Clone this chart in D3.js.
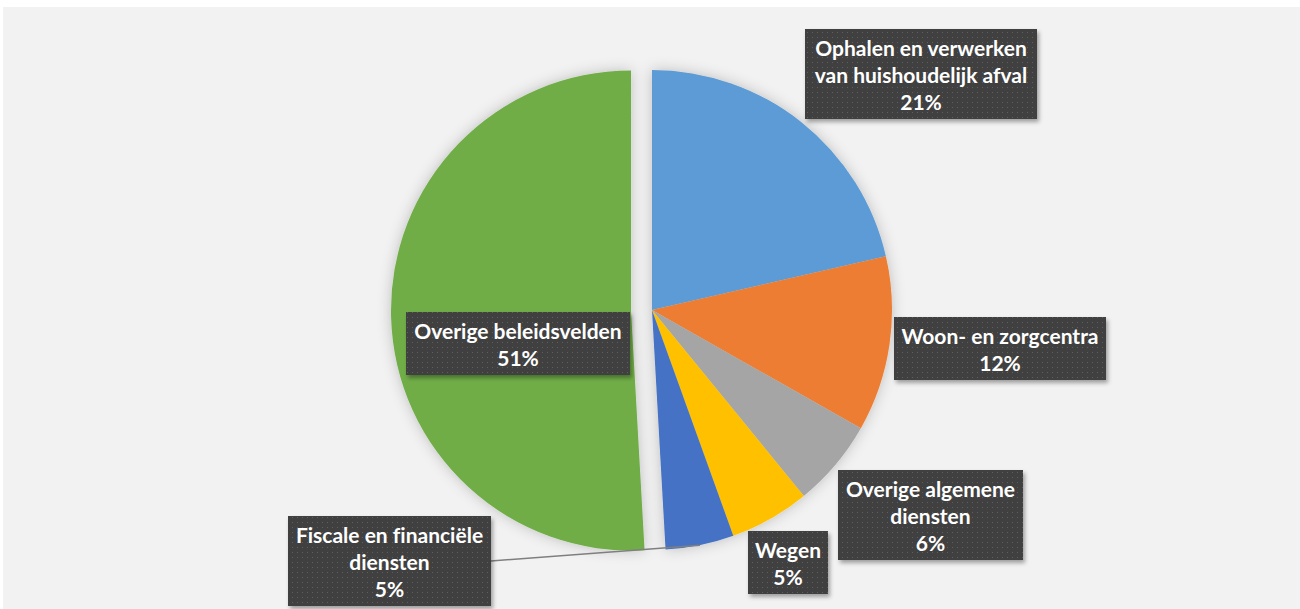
<!DOCTYPE html>
<html>
<head>
<meta charset="utf-8">
<script src="https://cdn.jsdelivr.net/npm/d3@7"></script>
<style>
  body { margin: 0; background: #fff; }
  svg { display: block; }
  .lbl { font-family: Lato, "Open Sans", sans-serif; font-weight: 700; fill: #fff; text-anchor: middle; font-variant-ligatures: none; }
</style>
</head>
<body>
<svg width="1300" height="609"></svg>
<script>
// slice data (share in %)
const categories = [
  'Ophalen en verwerken van huishoudelijk afval',
  'Woon- en zorgcentra',
  'Overige algemene diensten',
  'Wegen',
  'Fiscale en financiële diensten',
  'Overige beleidsvelden'
];
const values = [21.4, 11.8, 5.9, 5.4, 4.6, 50.9];
const colors = ['#5b9bd5', '#ed7d31', '#a5a5a5', '#ffc000', '#4472c4', '#70ad47'];
// label lines as shown in the boxes (last line is the percentage)
const labelLines = [
  ['Ophalen en verwerken', 'van huishoudelijk afval'],
  ['Woon- en zorgcentra'],
  ['Overige algemene', 'diensten'],
  ['Wegen'],
  ['Fiscale en financiële', 'diensten'],
  ['Overige beleidsvelden']
];
// box layout: left, top, width (in pixels)
const labelBoxes = [
  [805, 29, 232],
  [894, 317, 212],
  [838, 470, 185],
  [748, 531, 80],
  [288, 516, 203],
  [406, 312, 224]
];
const explodeIdx = 5;
const explodeDist = 21;

const svg = d3.select('svg');
const cx = 652, cy = 310, radius = 240;
const lineH = 27;

const defs = svg.append('defs');
const pat = defs.append('pattern')
  .attr('id', 'dots').attr('patternUnits', 'userSpaceOnUse')
  .attr('width', 5).attr('height', 5);
pat.append('rect').attr('width', 5).attr('height', 5).attr('fill', '#404040');
pat.append('rect').attr('x', 2).attr('y', 2).attr('width', 1).attr('height', 1).attr('fill', '#5e5e5e');

const pieShadow = defs.append('filter').attr('id', 'pieShadow')
  .attr('x', '-20%').attr('y', '-20%').attr('width', '140%').attr('height', '140%');
pieShadow.append('feDropShadow').attr('dx', 0).attr('dy', 0)
  .attr('stdDeviation', 7).attr('flood-color', '#000').attr('flood-opacity', 0.22);

const boxShadow = defs.append('filter').attr('id', 'boxShadow')
  .attr('x', '-10%').attr('y', '-10%').attr('width', '130%').attr('height', '140%');
boxShadow.append('feDropShadow').attr('dx', 2).attr('dy', 3)
  .attr('stdDeviation', 2).attr('flood-color', '#000').attr('flood-opacity', 0.35);

// chart area
svg.append('rect').attr('x', 3).attr('y', 7).attr('width', 1297).attr('height', 602).attr('fill', '#f2f2f2');

const pie = d3.pie().sort(null).value(d => d)(values);
const arc = d3.arc().innerRadius(0).outerRadius(radius);

function offset(d, i) {
  if (i !== explodeIdx) return [0, 0];
  const a = (d.startAngle + d.endAngle) / 2;
  return [Math.sin(a) * explodeDist, -Math.cos(a) * explodeDist];
}

const g = svg.append('g').attr('transform', `translate(${cx},${cy})`);

g.append('g').attr('filter', 'url(#pieShadow)')
  .selectAll('path')
  .data(pie)
  .join('path')
  .attr('d', arc)
  .attr('transform', (d, i) => `translate(${offset(d, i)})`)
  .attr('fill', (d, i) => colors[i]);

// leader line for the small slice with its label at the bottom left
const leaderIdx = 4;
const ld = pie[leaderIdx];
const la = (ld.startAngle + ld.endAngle) / 2;
const lb = labelBoxes[leaderIdx];
const lbH = (labelLines[leaderIdx].length + 1) * lineH + 9;
g.append('line')
  .attr('x1', lb[0] + lb[2] - cx).attr('y1', lb[1] + lbH / 2 - cy)
  .attr('x2', Math.sin(la) * radius).attr('y2', -Math.cos(la) * radius)
  .attr('stroke', '#7f7f7f').attr('stroke-width', 1.5);

const fmt = v => Math.round(v) + '%';

const labels = svg.append('g').selectAll('g')
  .data(categories)
  .join('g');

labels.each(function (c, i) {
  const lines = labelLines[i].concat([fmt(values[i])]);
  const [x, y, w] = labelBoxes[i];
  const h = lines.length * lineH + 9;
  const sel = d3.select(this);
  sel.append('rect')
    .attr('x', x).attr('y', y).attr('width', w).attr('height', h)
    .attr('fill', 'url(#dots)')
    .attr('filter', 'url(#boxShadow)');
  sel.append('text')
    .attr('class', 'lbl')
    .attr('font-size', 21)
    .selectAll('tspan')
    .data(lines)
    .join('tspan')
    .attr('x', x + w / 2)
    .attr('y', (t, k) => y + 26.5 + k * lineH)
    .text(t => t);
});
</script>
</body>
</html>
